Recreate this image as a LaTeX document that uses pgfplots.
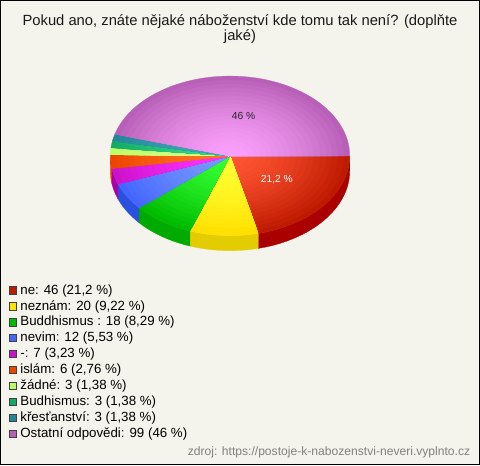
\documentclass[border=0pt]{standalone}
\usepackage{pgfplots}
\pgfplotsset{compat=1.18}
\usepackage{fontspec}
\setmainfont{Liberation Sans}
\definecolor{bg}{HTML}{F5F4EC}
% edge, centre, side colours
\definecolor{aE}{HTML}{BE1A00}\definecolor{aC}{HTML}{FF5533}\definecolor{aS}{HTML}{AA0000}
\definecolor{bE}{HTML}{FFE000}\definecolor{bC}{HTML}{FFFF33}\definecolor{bS}{HTML}{E3CC00}
\definecolor{cE}{HTML}{00BB00}\definecolor{cC}{HTML}{33FF33}\definecolor{cS}{HTML}{00AA00}
\definecolor{dE}{HTML}{4466FF}\definecolor{dC}{HTML}{7799FF}\definecolor{dS}{HTML}{2A50DD}
\definecolor{eE}{HTML}{CC11CC}\definecolor{eC}{HTML}{FF33FF}\definecolor{eS}{HTML}{AA00AA}
\definecolor{fE}{HTML}{EE4400}\definecolor{fC}{HTML}{FF7722}\definecolor{fS}{HTML}{DD4000}
\definecolor{gE}{HTML}{BBFF66}\definecolor{gC}{HTML}{DDFF88}\definecolor{gS}{HTML}{99DD44}
\definecolor{hE}{HTML}{11AA66}\definecolor{hC}{HTML}{33DD88}\definecolor{hS}{HTML}{118855}
\definecolor{iE}{HTML}{228899}\definecolor{iC}{HTML}{44AABB}\definecolor{iS}{HTML}{116677}
\definecolor{jE}{HTML}{B860B8}\definecolor{jC}{HTML}{FAA0FA}\definecolor{jS}{HTML}{995099}
\newcommand{\appendarc}[4]{%
  \pgfmathtruncatemacro\nn{max(2,ceil(abs(#2-#1)/3))}%
  \foreach \i in {0,...,\nn}{%
    \pgfmathsetmacro\tt{#1+(#2-#1)*\i/\nn}%
    \pgfmathsetmacro\px{230+120*#3*cos(\tt)}%
    \pgfmathsetmacro\py{155.7+80*#3*sin(\tt)+#4}%
    \xdef\pts{\pts (\px,\py)}%
  }}
\begin{document}
\begin{tikzpicture}
\begin{axis}[
  scale only axis, width=360pt, height=348.75pt,
  xmin=0, xmax=480, ymin=0, ymax=465, y dir=reverse,
  xtick=\empty, ytick=\empty, no marks,
  axis background/.style={fill=bg},
  axis line style={black, line width=0.8pt},
  legend image code/.code={\draw[#1, draw=black!75, line width=0.5pt] (0pt,-2.9pt) rectangle (5.6pt,2.9pt);\path (0pt,0pt) (8.2pt,0pt);},
  legend style={at={(axis cs:8.5,283.5)}, anchor=north west, draw=none, fill=none,
    font=\fontsize{10}{10}\selectfont, inner sep=0pt, outer sep=0pt,
    row sep=2pt,
    nodes={inner sep=0pt, text height=8pt, text depth=2pt, anchor=west}},
  legend cell align=left,
  legend entries={{ne: 46 (21,2 \%)},{neznám: 20 (9,22 \%)},{Buddhismus : 18 (8,29 \%)},{nevim: 12 (5,53 \%)},{-: 7 (3,23 \%)},{islám: 6 (2,76 \%)},{žádné: 3 (1,38 \%)},{Budhismus: 3 (1,38 \%)},{křesťanství: 3 (1,38 \%)},{Ostatní odpovědi: 99 (46 \%)}},
]
% sides
\gdef\cum{0}
\foreach \val/\nm in {46/a,20/b,18/c,12/d,7/e,6/f}{
  \pgfmathsetmacro\ta{\cum/217*360}
  \pgfmathsetmacro\tb{min(180,(\cum+\val)/217*360)}
  \gdef\pts{}
  \appendarc{\ta}{\tb}{1}{0}
  \appendarc{\tb}{\ta}{1}{15}
  \edef\doit{\noexpand\addplot[forget plot, fill=\nm S, draw=\nm S, line width=0.2pt] coordinates {\pts};}
  \doit
  \pgfmathsetmacro\nc{\cum+\val}\xdef\cum{\nc}
}
% top face: concentric rings give the radial gradient
\gdef\cum{0}
\foreach \val/\nm in {46/a,20/b,18/c,12/d,7/e,6/f,3/g,3/h,3/i,99/j}{
  \pgfmathsetmacro\ta{\cum/217*360}
  \pgfmathsetmacro\tb{(\cum+\val)/217*360}
  \gdef\pts{(230,155.7)}
  \appendarc{\ta}{\tb}{1}{0}
  \xdef\pts{\pts (230,155.7)}
  \edef\doit{\noexpand\addplot[fill=\nm E, draw=\nm E, line width=0.2pt] coordinates {\pts};}
  \doit
  \foreach \k in {19,18,...,1}{
    \pgfmathsetmacro\sc{\k/20}
    \pgfmathtruncatemacro\pp{100*(\k/20)^1.5}
    \gdef\pts{(230,155.7)}
    \appendarc{\ta}{\tb}{\sc}{0}
    \xdef\pts{\pts (230,155.7)}
    \edef\doit{\noexpand\addplot[forget plot, fill={\nm E!\pp!\nm C}, draw={\nm E!\pp!\nm C}, line width=0.2pt] coordinates {\pts};}
    \doit
  }
  \pgfmathsetmacro\nc{\cum+\val}\xdef\cum{\nc}
}
\node[font=\fontsize{7.7}{10}\selectfont, text=white] at (axis cs:277,179) {21,2 \%};
\node[font=\fontsize{7.7}{10}\selectfont, text=black!85] at (axis cs:243.5,116) {46 \%};
\node[font=\fontsize{11.1}{11.6}\selectfont, align=center, text=black!90] at (axis cs:240,28.5) {Pokud ano, znáte nějaké náboženství kde tomu tak není? (doplňte\\jaké)};
\node[font=\fontsize{9.1}{10}\selectfont, text=black!50, anchor=east, inner sep=0pt] at (axis cs:471,453) {zdroj: https://postoje-k-nabozenstvi-neveri.vyplnto.cz};
\end{axis}
\end{tikzpicture}
\end{document}
